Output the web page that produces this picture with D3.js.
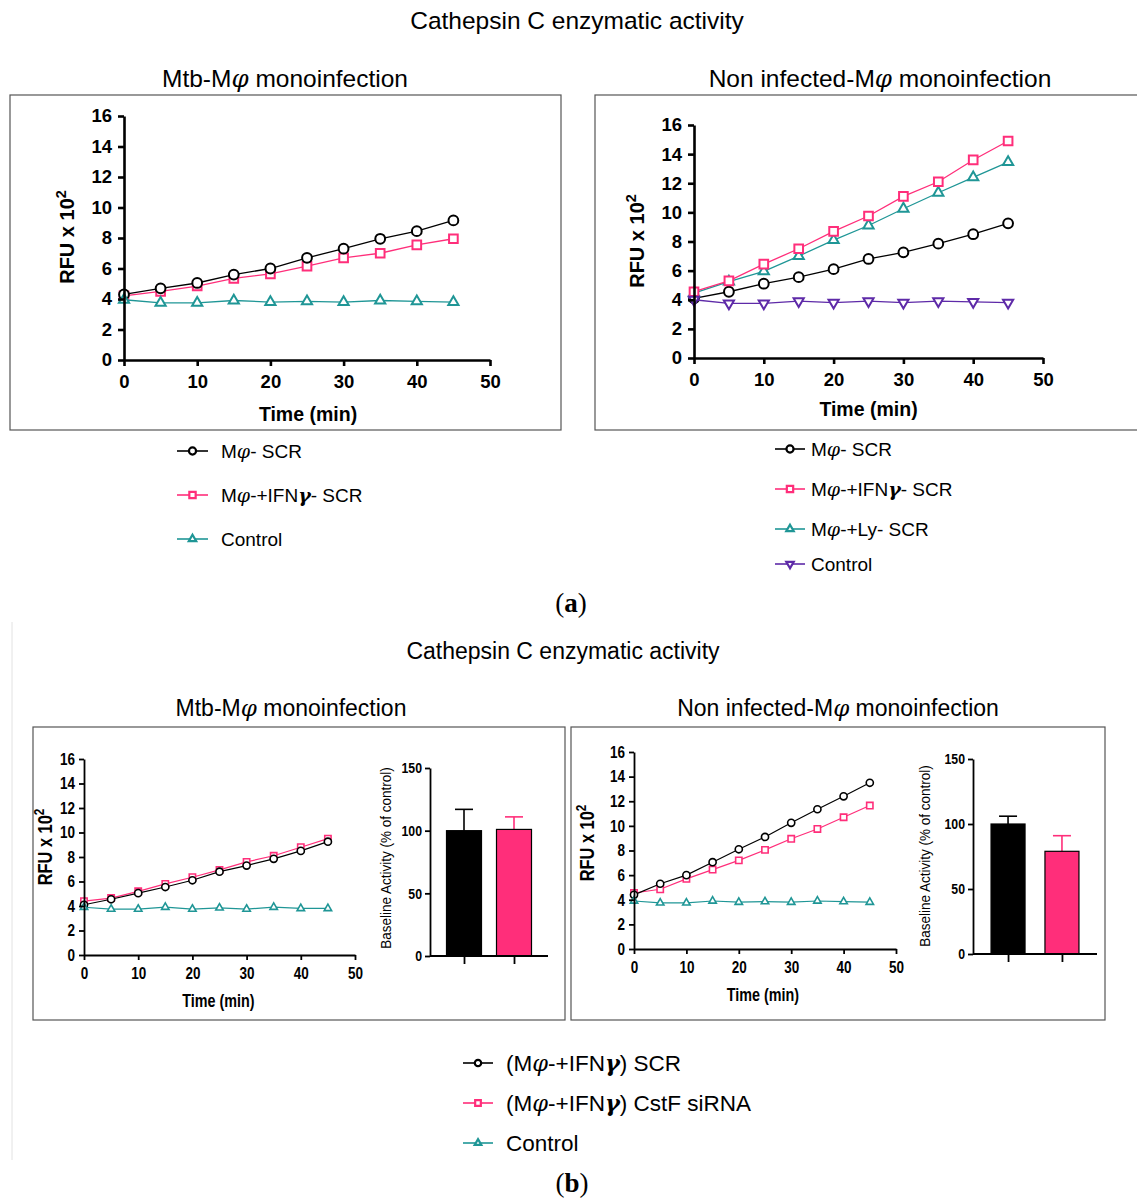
<!DOCTYPE html>
<html><head><meta charset="utf-8">
<script src="https://cdn.jsdelivr.net/npm/d3@7"></script>
<style>
body{margin:0;background:#fff;}
svg{display:block;font-family:"Liberation Sans",Arial,Helvetica,sans-serif;}
</style></head>
<body><svg id="c" width="1137" height="1200"></svg>
<script>
// ---------- DATA ----------
const timeMin = [0,5,10,15,20,25,30,35,40,45];
const xTicks = [0,10,20,30,40,50];
const yTicks = [0,2,4,6,8,10,12,14,16];
const barTicks = [0,50,100,150];

// (a) Mtb-Mφ monoinfection
const aMtbSCR     = [4.3,4.7,5.05,5.6,6.0,6.7,7.3,7.95,8.45,9.15];
const aMtbIFN     = [4.2,4.5,4.85,5.35,5.65,6.15,6.7,7.0,7.55,7.95];
const aMtbControl = [3.95,3.75,3.75,3.9,3.8,3.85,3.8,3.9,3.85,3.8];
// (a) Non infected-Mφ monoinfection
const aNonSCR     = [4.1,4.55,5.1,5.55,6.1,6.8,7.25,7.85,8.5,9.25];
const aNonIFN     = [4.55,5.3,6.45,7.5,8.7,9.75,11.1,12.1,13.6,14.9];
const aNonLy      = [4.45,5.25,5.95,7.0,8.1,9.1,10.25,11.35,12.4,13.45];
const aNonControl = [4.0,3.75,3.75,3.9,3.8,3.9,3.8,3.9,3.85,3.8];
// (b) Mtb-Mφ monoinfection
const bMtbSCR     = [4.1,4.55,5.05,5.55,6.1,6.8,7.3,7.85,8.5,9.25];
const bMtbSiRNA   = [4.4,4.65,5.2,5.8,6.35,6.95,7.6,8.1,8.8,9.5];
const bMtbControl = [3.9,3.75,3.75,3.9,3.75,3.85,3.75,3.9,3.8,3.8];
// (b) Non infected-Mφ monoinfection
const bNonSCR     = [4.4,5.3,6.0,7.05,8.1,9.1,10.25,11.35,12.4,13.5];
const bNonSiRNA   = [4.55,4.85,5.7,6.45,7.2,8.05,8.95,9.75,10.7,11.65];
const bNonControl = [3.9,3.75,3.75,3.9,3.8,3.85,3.8,3.9,3.85,3.8];
// (b) baseline activity bars (% of control)
const barGroups    = ["SCR","CstF siRNA"];
const bMtbBars     = [100,101];
const bMtbBarErr   = [17,10];
const bNonBars     = [100,79];
const bNonBarErr   = [6,12];

// ---------- STYLE ----------
const BLACK="#000000", PINK="#ff2e7a", TEAL="#1f9696", PURPLE="#5e2aa8";
const SANS="'Liberation Sans',Arial,sans-serif";
const svg = d3.select("#c");

function marker(sel, type, size){
  const map = {circle:d3.symbolCircle, square:d3.symbolSquare, tri:d3.symbolTriangle, down:d3.symbolTriangle};
  const f = (type==="tri"||type==="down") ? 0.6 : 1;
  sel.attr("d", d3.symbol().type(map[type]).size(size*f)());
  if(type==="down") sel.attr("transform", function(){ return d3.select(this).attr("transform")+" rotate(180)"; });
}

function linePanel(cfg){
  const k = cfg.cond || 1;
  const g = svg.append("g");
  const x = d3.scaleLinear().domain([0,50]).range([cfg.x0,cfg.x1]);
  const y = d3.scaleLinear().domain([0,16]).range([cfg.yb,cfg.yt]);
  cfg.series.forEach(s=>{
    const line = d3.line().x((d,i)=>x(timeMin[i])).y(d=>y(d));
    g.append("path").datum(s.values).attr("d",line).attr("fill","none")
      .attr("stroke",s.color).attr("stroke-width",cfg.lw);
    g.selectAll(null).data(s.values).enter().append("path")
      .attr("transform",(d,i)=>`translate(${x(timeMin[i])},${y(d)})`)
      .attr("fill","#fff").attr("stroke",s.color).attr("stroke-width",cfg.mw)
      .each(function(){ marker(d3.select(this), s.marker, cfg.ms); });
  });
  const ax = g.append("g").attr("transform",`translate(0,${cfg.yb})`)
    .call(d3.axisBottom(x).tickValues(xTicks).tickSize(cfg.tick).tickPadding(cfg.tpad).tickSizeOuter(0));
  const ay = g.append("g").attr("transform",`translate(${cfg.x0},0)`)
    .call(d3.axisLeft(y).tickValues(yTicks).tickSize(cfg.tick).tickPadding(cfg.tpad-3).tickSizeOuter(0));
  [ax,ay].forEach(a=>{
    a.select(".domain").attr("stroke","#000").attr("stroke-width",cfg.aw);
    a.selectAll(".tick line").attr("stroke","#000").attr("stroke-width",cfg.aw);
    a.selectAll(".tick text").attr("fill","#000").attr("font-weight","bold")
      .attr("font-size",cfg.fs).attr("font-family",SANS);
  });
  if(k!==1){
    ax.selectAll(".tick text").attr("transform",`scale(${k},1)`);
    ay.selectAll(".tick text").attr("x",-(cfg.tick+cfg.tpad-3)/k).attr("transform",`scale(${k},1)`);
  }
  g.append("text").attr("transform",`translate(${(cfg.x0+cfg.x1)/2 + (cfg.xlDx||0)},${cfg.xlY}) scale(${k},1)`)
    .attr("text-anchor","middle")
    .attr("font-weight","bold").attr("font-size",cfg.lfs).text("Time (min)");
  const yl = g.append("text").attr("transform",`translate(${cfg.ylX},${cfg.ylY}) rotate(-90) scale(${k},1)`)
    .attr("text-anchor","middle").attr("font-weight","bold").attr("font-size",cfg.yfs);
  yl.append("tspan").text("RFU x 10");
  yl.append("tspan").attr("dy",-cfg.yfs*0.4).attr("font-size",cfg.yfs*0.72).text("2");
}

function barPanel(cfg){
  const k = 0.82;
  const g = svg.append("g");
  const x = d3.scalePoint().domain(barGroups).range([cfg.x0,cfg.x1]).padding(cfg.pad);
  const y = d3.scaleLinear().domain([0,150]).range([cfg.yb,cfg.yt]);
  const cols=[BLACK,PINK];
  cfg.vals.forEach((v,i)=>{
    const cx=x(barGroups[i]);
    g.append("line").attr("x1",cx).attr("x2",cx).attr("y1",y(v)).attr("y2",y(v+cfg.err[i]))
      .attr("stroke",cols[i]).attr("stroke-width",1.6);
    g.append("line").attr("x1",cx-9).attr("x2",cx+9).attr("y1",y(v+cfg.err[i])).attr("y2",y(v+cfg.err[i]))
      .attr("stroke",cols[i]).attr("stroke-width",1.6);
    g.append("rect").attr("x",cx-cfg.bw/2).attr("width",cfg.bw).attr("y",y(v)).attr("height",cfg.yb-y(v))
      .attr("fill",cols[i]).attr("stroke","#000").attr("stroke-width",1.2);
  });
  const ax = g.append("g").attr("transform",`translate(0,${cfg.yb})`)
    .call(d3.axisBottom(x).tickSize(8).tickFormat("").tickSizeOuter(0));
  ax.select(".domain").attr("d",`M${cfg.x0},0H${cfg.x1}`);
  const ay = g.append("g").attr("transform",`translate(${cfg.x0},0)`)
    .call(d3.axisLeft(y).tickValues(barTicks).tickSize(5).tickPadding(3).tickSizeOuter(0));
  [ax,ay].forEach(a=>{
    a.select(".domain").attr("stroke","#000").attr("stroke-width",1.8);
    a.selectAll(".tick line").attr("stroke","#000").attr("stroke-width",1.8);
  });
  ay.selectAll(".tick text").attr("fill","#000").attr("font-weight","bold")
      .attr("font-size",15).attr("font-family",SANS).attr("x",-8/k).attr("transform",`scale(${k},1)`);
  g.append("text").attr("transform",`translate(${cfg.ylX},${cfg.ylY}) rotate(-90) scale(0.9,1)`)
    .attr("text-anchor","middle").attr("font-size",15).attr("font-family",SANS).text("Baseline Activity (% of control)");
}

function legend(items, x0, ys, fs, lineLen, gap, ms){
  items.forEach((it,i)=>{
    const g = svg.append("g");
    g.append("line").attr("x1",x0).attr("x2",x0+lineLen).attr("y1",ys[i]).attr("y2",ys[i])
      .attr("stroke",it.color).attr("stroke-width",1.6);
    g.append("path").attr("transform",`translate(${x0+lineLen/2},${ys[i]})`)
      .attr("fill","#fff").attr("stroke",it.color).attr("stroke-width",2.2)
      .each(function(){ marker(d3.select(this), it.marker, ms); });
    const t = g.append("text").attr("x",x0+lineLen+gap).attr("y",ys[i]).attr("dy","0.35em")
      .attr("font-size",fs).attr("fill","#000");
    it.parts.forEach(p=>{
      const ts=t.append("tspan").text(p[0]);
      if(p[1]==="i") ts.attr("font-style","italic").attr("font-family","'DejaVu Serif',serif");
      if(p[1]==="bi") ts.attr("font-style","italic").attr("font-weight","bold").attr("font-family","'DejaVu Serif',serif");
    });
  });
}

function txt(x,y,s,fs){
  const t=svg.append("text").attr("x",x).attr("y",y).attr("text-anchor","middle").attr("font-size",fs).attr("fill","#000");
  s.forEach(p=>{const ts=t.append("tspan").text(p[0]); if(p[1]==="i") ts.attr("font-style","italic").attr("font-family","'DejaVu Serif',serif");});
  return t;
}

// ---------- (a) ----------
txt(577,29,[["Cathepsin C enzymatic activity"]],24.5);
txt(285,87,[["Mtb-M"],["φ","i"],[" monoinfection"]],24.5);
txt(880,87,[["Non infected-M"],["φ","i"],[" monoinfection"]],24.5);
svg.append("rect").attr("x",10).attr("y",95).attr("width",551).attr("height",335).attr("fill","none").attr("stroke","#555").attr("stroke-width",1.2);
svg.append("rect").attr("x",595).attr("y",95).attr("width",560).attr("height",335).attr("fill","none").attr("stroke","#555").attr("stroke-width",1.2);

linePanel({x0:124,x1:490,yb:360,yt:116,lw:1.3,mw:2,ms:75,aw:2.6,tick:6,tpad:9,fs:18.5,lfs:19.5,yfs:20,
  xlY:421,xlDx:1,ylX:74,ylY:237,
  series:[{values:aMtbIFN,color:PINK,marker:"square"},{values:aMtbSCR,color:BLACK,marker:"circle"},{values:aMtbControl,color:TEAL,marker:"tri"}]});
linePanel({x0:694,x1:1043,yb:358,yt:125,lw:1.3,mw:2,ms:75,aw:2.6,tick:6,tpad:9,fs:18.5,lfs:19.5,yfs:20,
  xlY:416,xlDx:0,ylX:644,ylY:241,
  series:[{values:aNonSCR,color:BLACK,marker:"circle"},{values:aNonLy,color:TEAL,marker:"tri"},{values:aNonIFN,color:PINK,marker:"square"},{values:aNonControl,color:PURPLE,marker:"down"}]});

legend([
  {color:BLACK,marker:"circle",parts:[["M"],["φ","i"],["- SCR"]]},
  {color:PINK,marker:"square",parts:[["M"],["φ","i"],["-+IFN"],["γ","bi"],["- SCR"]]},
  {color:TEAL,marker:"tri",parts:[["Control"]]}
],177,[451,495,539],19,31,13,40);
legend([
  {color:BLACK,marker:"circle",parts:[["M"],["φ","i"],["- SCR"]]},
  {color:PINK,marker:"square",parts:[["M"],["φ","i"],["-+IFN"],["γ","bi"],["- SCR"]]},
  {color:TEAL,marker:"tri",parts:[["M"],["φ","i"],["-+Ly- SCR"]]},
  {color:PURPLE,marker:"down",parts:[["Control"]]}
],775,[449,489,529,564],19,30,6,40);

svg.append("text").attr("x",571).attr("y",612).attr("text-anchor","middle").attr("font-size",27)
  .attr("font-family","'Liberation Serif',serif").html("(<tspan font-weight='bold'>a</tspan>)");

// ---------- (b) ----------
svg.append("line").attr("x1",12).attr("x2",12).attr("y1",622).attr("y2",1160).attr("stroke","#e2e2e2").attr("stroke-width",1);
txt(563,659,[["Cathepsin C enzymatic activity"]],23);
txt(291,716,[["Mtb-M"],["φ","i"],[" monoinfection"]],23);
txt(838,716,[["Non infected-M"],["φ","i"],[" monoinfection"]],23);
svg.append("rect").attr("x",33).attr("y",727).attr("width",532).attr("height",293).attr("fill","none").attr("stroke","#555").attr("stroke-width",1.2);
svg.append("rect").attr("x",571).attr("y",727).attr("width",534).attr("height",293).attr("fill","none").attr("stroke","#555").attr("stroke-width",1.2);

linePanel({x0:84,x1:355,yb:955,yt:759,lw:1.2,mw:1.6,ms:40,aw:1.8,tick:5,tpad:7,fs:16.5,lfs:17.5,yfs:20,cond:0.82,
  xlY:1007,xlDx:-1,ylX:52,ylY:847,
  series:[{values:bMtbSiRNA,color:PINK,marker:"square"},{values:bMtbSCR,color:BLACK,marker:"circle"},{values:bMtbControl,color:TEAL,marker:"tri"}]});
linePanel({x0:634,x1:896,yb:949,yt:752,lw:1.2,mw:1.6,ms:40,aw:1.8,tick:5,tpad:7,fs:16.5,lfs:17.5,yfs:20,cond:0.82,
  xlY:1001,xlDx:-2,ylX:594,ylY:843,
  series:[{values:bNonSiRNA,color:PINK,marker:"square"},{values:bNonSCR,color:BLACK,marker:"circle"},{values:bNonControl,color:TEAL,marker:"tri"}]});

barPanel({x0:430,x1:548,pad:0.68,yb:956,yt:768,bw:35,vals:bMtbBars,err:bMtbBarErr,ylX:391,ylY:858});
barPanel({x0:973,x1:1097,pad:0.65,yb:954,yt:759,bw:34,vals:bNonBars,err:bNonBarErr,ylX:930,ylY:856});

legend([
  {color:BLACK,marker:"circle",parts:[["(M"],["φ","i"],["-+IFN"],["γ","bi"],[") SCR"]]},
  {color:PINK,marker:"square",parts:[["(M"],["φ","i"],["-+IFN"],["γ","bi"],[") CstF siRNA"]]},
  {color:TEAL,marker:"tri",parts:[["Control"]]}
],463,[1063,1103,1143],22.5,30,13,32);

svg.append("text").attr("x",572).attr("y",1192).attr("text-anchor","middle").attr("font-size",27)
  .attr("font-family","'Liberation Serif',serif").html("(<tspan font-weight='bold'>b</tspan>)");
</script></body></html>
